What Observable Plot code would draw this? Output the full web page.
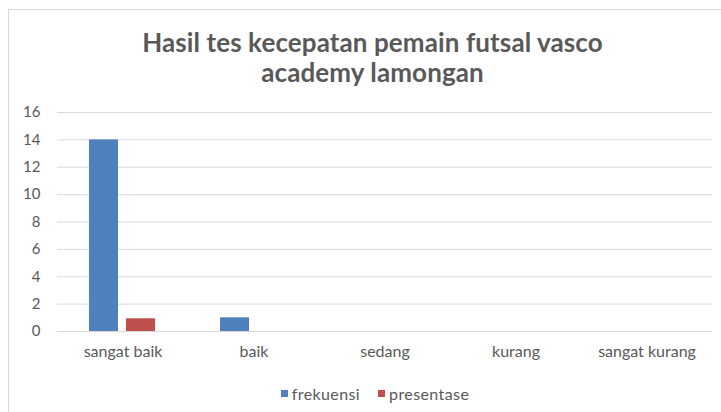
<!DOCTYPE html>
<html>
<head>
<meta charset="utf-8">
<script src="https://cdn.jsdelivr.net/npm/d3@7"></script>
<script src="https://cdn.jsdelivr.net/npm/@observablehq/plot@0.6"></script>
<style>
  html, body { margin: 0; padding: 0; background: #fff; }
  body { width: 721px; height: 412px; overflow: hidden; position: relative; font-family: Lato, "Open Sans", sans-serif; color: #595959; }
  #frame { position: absolute; left: 8px; top: 9px; width: 740px; height: 420px; border: 1px solid #d9d9d9; box-sizing: border-box; }
  #title { position: absolute; left: 0; top: 27px; width: 745px; text-align: center; font-size: 26px; font-weight: 700; line-height: 30px; color: #595959; letter-spacing: 0.1px; }
  #chart { position: absolute; left: 0; top: 95px; }
  #legend { position: absolute; left: 0; top: 381px; width: 750px; text-align: center; font-size: 16px; color: #595959; letter-spacing: 0.4px; }
  .item { display: inline-flex; align-items: center; margin: 0 9px; }
  .sw { width: 7px; height: 7px; display: inline-block; margin-right: 4px; }
</style>
</head>
<body>
<div id="frame"></div>
<div id="title">Hasil tes kecepatan pemain futsal vasco<br>academy lamongan</div>
<div id="chart"></div>
<div id="legend"></div>
<script>
const categories = ["sangat baik", "baik", "sedang", "kurang", "sangat kurang"];
const seriesNames = ["frekuensi", "presentase"];
const frekuensi = [14, 1, 0, 0, 0];
const presentase = [0.93, 0, 0, 0, 0];
const yTicks = [0, 2, 4, 6, 8, 10, 12, 14, 16];
const colors = ["#4f81bd", "#c0504d"];

const data = [];
categories.forEach((c, i) => {
  data.push({category: c, series: seriesNames[0], value: frekuensi[i]});
  data.push({category: c, series: seriesNames[1], value: presentase[i]});
});

const chart = Plot.plot({
  width: 721,
  height: 265,
  marginLeft: 57,
  marginRight: 9,
  marginTop: 17,
  marginBottom: 29,
  style: {fontFamily: "Lato, 'Open Sans', sans-serif", fontSize: "14px", color: "#595959", background: "transparent"},
  fx: {domain: categories, padding: 0, label: null},
  x: {domain: seriesNames, paddingInner: 0.216, paddingOuter: 0.873, axis: null},
  y: {domain: [0, 16], ticks: yTicks, label: null},
  color: {domain: seriesNames, range: colors},
  marks: [
    Plot.gridY(yTicks, {stroke: "#d9d9d9", strokeOpacity: 1, strokeWidth: 1}),
    Plot.axisY(yTicks, {tickSize: 0, tickPadding: 17, label: null, fontSize: 15, fill: "#595959"}),
    Plot.axisFx({anchor: "bottom", tickSize: 0, tickPadding: 14, label: null, fontSize: 16, fill: "#595959", style: {letterSpacing: "0.4px"}}),
    Plot.barY(data, {fx: "category", x: "series", y: "value", fill: "series"})
  ]
});
document.getElementById("chart").appendChild(chart);

const legend = document.getElementById("legend");
seriesNames.forEach((s, i) => {
  const item = document.createElement("span");
  item.className = "item";
  const sw = document.createElement("span");
  sw.className = "sw";
  sw.style.background = colors[i];
  item.appendChild(sw);
  item.appendChild(document.createTextNode(s));
  legend.appendChild(item);
});
</script>
</body>
</html>
